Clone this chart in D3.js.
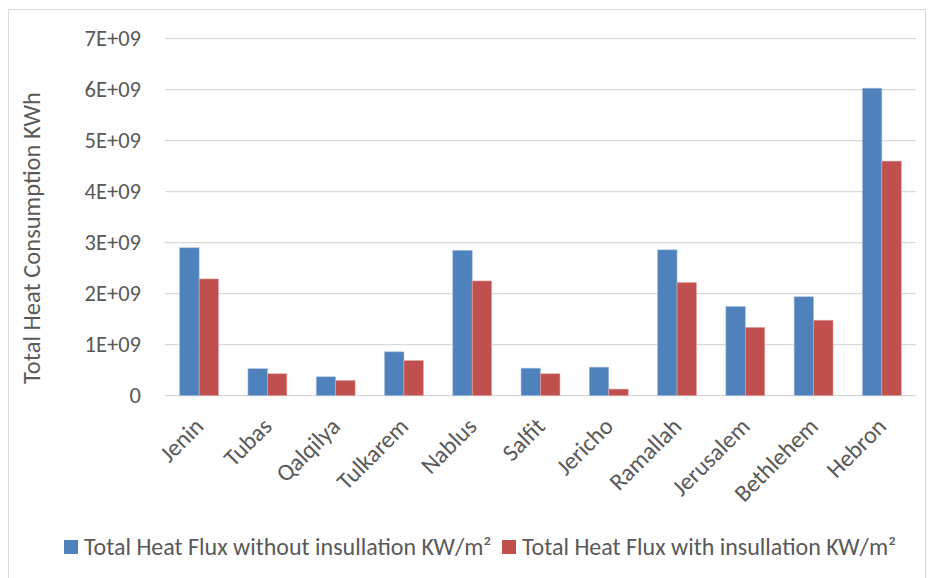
<!DOCTYPE html>
<html>
<head>
<meta charset="utf-8">
<script src="https://cdn.jsdelivr.net/npm/d3@7"></script>
<style>
  body { margin: 0; background: #fff; }
  text { font-family: Carlito, "Open Sans", "Liberation Sans", sans-serif; fill: #595959; }
</style>
</head>
<body>
<div id="viz-container"></div>
<script>
let width = 931;
let height = 578;

let districts = ["Jenin","Tubas","Qalqilya","Tulkarem","Nablus","Salfit","Jericho","Ramallah","Jerusalem","Bethlehem","Hebron"];
let withoutInsulation = [2.90e9, 0.53e9, 0.37e9, 0.86e9, 2.85e9, 0.54e9, 0.56e9, 2.86e9, 1.75e9, 1.94e9, 6.03e9];
let withInsulation = [2.29e9, 0.43e9, 0.30e9, 0.69e9, 2.25e9, 0.43e9, 0.13e9, 2.22e9, 1.34e9, 1.48e9, 4.60e9];
let yTicks = [0, 1e9, 2e9, 3e9, 4e9, 5e9, 6e9, 7e9];
let tickLabels = ["0","1E+09","2E+09","3E+09","4E+09","5E+09","6E+09","7E+09"];
let seriesNames = ["Total Heat Flux without insullation KW/m\u00b2", "Total Heat Flux with insullation KW/m\u00b2"];
let pallet = ["#4f81bd", "#c0504d"];

let viz = d3.select('#viz-container')
  .append('svg')
  .attr('width', width)
  .attr('height', height);

// chart frame
viz.append('rect')
  .attr('x', 8.5).attr('y', 9.5)
  .attr('width', 917).attr('height', 590)
  .attr('fill', 'none')
  .attr('stroke', '#d9d9d9');

let x0 = d3.scaleBand().domain(districts).range([165, 916]).paddingInner(0.43).paddingOuter(0.215);
let x1 = d3.scaleBand().domain([0, 1]).range([0, x0.bandwidth()]);
let y = d3.scaleLinear().domain([0, 7e9]).range([395.7, 38.7]);

// gridlines + y labels
viz.selectAll('.grid').data(yTicks).enter()
  .append('line')
  .attr('class', 'grid')
  .attr('x1', 165).attr('x2', 916)
  .attr('y1', d => y(d)).attr('y2', d => y(d))
  .attr('stroke', '#d9d9d9')
  .attr('stroke-width', 1.3);

viz.selectAll('.yLabel').data(yTicks).enter()
  .append('text')
  .attr('class', 'yLabel')
  .text((d, i) => tickLabels[i])
  .attr('x', 141)
  .attr('y', d => y(d))
  .attr('dy', '0.34em')
  .attr('text-anchor', 'end')
  .attr('font-size', 22.5);

// bars
let rows = districts.map((d, i) => ({ name: d, values: [withoutInsulation[i], withInsulation[i]] }));

let groups = viz.selectAll('.group').data(rows).enter()
  .append('g')
  .attr('class', 'group')
  .attr('transform', d => 'translate(' + x0(d.name) + ',0)');

groups.selectAll('rect').data(d => d.values).enter()
  .append('rect')
  .attr('x', (d, i) => x1(i))
  .attr('width', x1.bandwidth())
  .attr('y', d => y(d))
  .attr('height', d => y(0) - y(d))
  .attr('fill', (d, i) => pallet[i])
  .attr('stroke', (d, i) => i == 0 ? '#a7c0de' : '#e0a8a6')
  .attr('stroke-width', 0.6);

// x labels, rotated
viz.selectAll('.xLabel').data(districts).enter()
  .append('text')
  .attr('class', 'xLabel')
  .text(d => d)
  .attr('transform', d => 'translate(' + (x0(d) + x0.bandwidth() / 2 - 6) + ',416) rotate(-45)')
  .attr('text-anchor', 'end')
  .attr('dy', '0.7em')
  .attr('font-size', 24);

// y title
viz.append('text')
  .text('Total Heat Consumption KWh')
  .attr('transform', 'translate(40,238) rotate(-90)')
  .attr('text-anchor', 'middle')
  .attr('font-size', 24.5);

// legend
let legendX = [64, 502];
let legend = viz.selectAll('.legend').data(seriesNames).enter()
  .append('g')
  .attr('class', 'legend')
  .attr('transform', (d, i) => 'translate(' + legendX[i] + ',540)');

legend.append('rect')
  .attr('width', 14).attr('height', 14)
  .attr('fill', (d, i) => pallet[i]);

legend.append('text')
  .text(d => d)
  .attr('x', 20)
  .attr('y', 7)
  .attr('dy', '0.34em')
  .attr('font-size', 24);
</script>
</body>
</html>
